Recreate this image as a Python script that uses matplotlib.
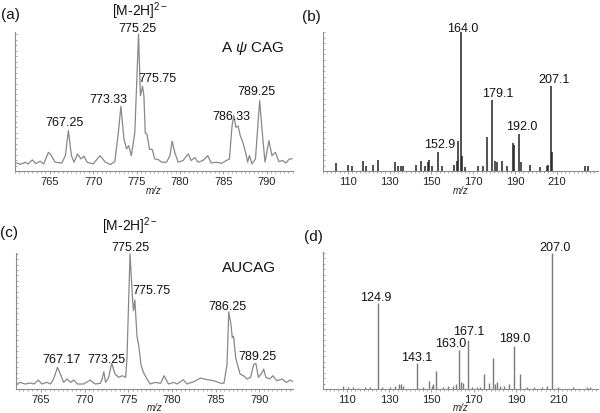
import numpy as np
import matplotlib
matplotlib.use("Agg")
import matplotlib.pyplot as plt
from matplotlib.ticker import MultipleLocator

plt.rcParams["font.family"] = ["Liberation Sans", "DejaVu Sans"]
plt.rcParams["mathtext.fontset"] = "custom"
plt.rcParams["mathtext.rm"] = "Liberation Sans"
plt.rcParams["mathtext.it"] = "Liberation Sans:italic"

# (a) A psi CAG, profile spectrum
mz_a = [761.2, 761.6, 762.2, 762.5, 763.0, 763.4, 763.9, 764.3, 764.85, 765.2,
        765.6, 766.4, 766.8, 767.15, 767.5, 767.8, 768.2, 768.6, 768.95, 769.3,
        770.0, 770.8, 771.4, 772.0, 772.5, 772.9, 773.2, 773.55, 773.85, 774.1,
        774.4, 774.8, 775.23, 775.45, 775.69, 775.85, 776.0, 776.2, 776.5, 776.8,
        777.1, 777.5, 777.9, 778.45, 778.85, 779.1, 779.4, 779.8, 780.35, 780.95,
        781.3, 781.7, 782.1, 782.65, 783.2, 783.6, 784.2, 784.8, 785.35, 785.7,
        786.0, 786.2, 786.45, 786.7, 786.95, 787.25, 787.6, 787.8, 788.0, 788.3,
        788.7, 789.18, 789.55, 789.8, 790.25, 790.6, 791.0, 791.4, 791.85, 792.2,
        792.6, 792.9]
int_a = [6, 5, 6.5, 5.3, 8.3, 5.6, 7.3, 5.3, 13.8, 11.4,
         6.6, 6, 11.4, 29.6, 11.4, 6.6, 12.6, 9, 11, 6.6,
         5.3, 11.4, 6.6, 4.9, 7, 28, 47.3, 23.5, 16.3, 18.7,
         11.4, 28, 100, 55, 62, 55, 28, 27, 16, 16,
         9, 8.5, 6.6, 6.6, 11.4, 22, 13.8, 6.6, 7.8, 12.6,
         7.8, 10, 6.6, 7.8, 11.4, 6, 6.6, 5.8, 7.8, 9,
         33, 40.5, 32, 33, 26, 21, 12.6, 6.6, 11.4, 5.3,
         9, 51.5, 23.5, 6.6, 22.3, 11.4, 13.8, 7, 7.8, 6,
         9, 9]
labels_a = ["775.25", "775.75", "773.33", "767.25", "786.33", "789.25"]
lab_x_a = [775.09, 777.45, 771.78, 766.7, 785.92, 788.83]
lab_y_a = [102.2, 65.8, 50.5, 33.7, 38.1, 56.3]

# (b) MS/MS of A psi CAG, stick spectrum
mz_b = [104.35, 110.25, 111.8, 117.1, 118.7, 122.2, 124.6, 132.6, 134.2, 135.5,
        136.6, 142.6, 144.9, 146.9, 148.2, 149.0, 150.1, 152.9, 154.9, 160.8,
        162.1, 162.7, 164.0, 164.8, 166.1, 172.5, 174.5, 176.8, 179.1, 180.4,
        181.5, 183.6, 186.3, 188.9, 189.5, 192.0, 192.7, 197.2, 201.9, 205.1,
        205.9, 207.1, 207.9, 223.5, 225.1]
int_b = [6, 4.8, 3.4, 7, 4, 4.8, 8, 6.5, 3.4, 4,
         4, 4.8, 7.4, 4, 6.5, 8, 4, 14, 4, 4.8,
         7.7, 22, 100, 11, 3, 4, 4, 24.5, 51, 7.7,
         6.5, 7.7, 4, 20, 18.5, 27, 6.5, 4.8, 3, 4,
         4.8, 61, 13.7, 3.4, 3.4]
labels_b = ["164.0", "207.1", "179.1", "192.0", "152.9"]
lab_x_b = [164.86, 208.64, 181.85, 193.3, 153.86]
lab_y_b = [100.9, 64.2, 54.2, 30.4, 17.5]

# (c) AUCAG, profile spectrum
mz_c = [762.25, 762.6, 763.2, 763.8, 764.2, 764.7, 765.1, 765.7, 766.1, 766.45,
        766.9, 767.3, 767.6, 768.0, 768.4, 768.75, 769.2, 769.9, 770.65, 771.2,
        771.8, 772.0, 772.2, 772.4, 772.75, 773.1, 773.5, 773.9, 774.3, 774.7,
        774.85, 775.2, 775.5, 775.6, 775.75, 776.0, 776.2, 776.45, 776.75, 777.15,
        777.5, 778.1, 778.7, 779.1, 779.6, 780.2, 780.6, 781.3, 781.7, 782.5,
        783.25, 784.0, 784.8, 785.5, 785.95, 786.3, 786.5, 786.75, 786.9, 787.05,
        787.3, 787.5, 787.8, 788.2, 788.6, 789.0, 789.35, 789.6, 789.9, 790.3,
        790.5, 790.75, 791.2, 791.55, 792.0, 792.6, 793.1, 793.55, 793.85]
int_c = [3.7, 4.9, 3.7, 4.4, 3.7, 6.6, 3.7, 4.9, 3.7, 7.4,
         16, 9.8, 4.9, 7.4, 4.9, 6.6, 3.7, 3.7, 6.6, 3.7,
         4.2, 7.4, 12.8, 4.9, 8.6, 19, 11, 8.6, 9.8, 8.6,
         23, 100, 65, 58, 66, 39, 32, 18, 12, 7.4,
         3.7, 4.9, 4.2, 9.8, 3.7, 4.9, 3.7, 6.9, 3.7, 5.4,
         8.1, 6.9, 6.1, 4.4, 4.2, 18, 57, 48, 38, 39,
         23, 18, 11, 9.8, 7.4, 8.6, 18, 19, 8.6, 12,
         14.7, 8.6, 7.4, 9.8, 6.1, 7.4, 4.9, 6.6, 5.4]
labels_c = ["775.25", "775.75", "767.17", "773.25", "786.25", "789.25"]
lab_x_c = [775.23, 777.63, 767.33, 772.48, 786.4, 789.74]
lab_y_c = [103.2, 70.7, 19.9, 19.9, 59, 22.1]

# (d) MS/MS of AUCAG, stick spectrum
mz_d = [108.0, 110.7, 113.1, 115.4, 118.6, 121.0, 124.9, 126.5, 130.4, 132.8,
        134.7, 135.6, 136.7, 143.1, 146.2, 149.05, 150.2, 150.9, 152.05, 155.7,
        158.0, 160.4, 161.7, 163.0, 164.2, 165.1, 167.1, 169.1, 171.5, 173.0,
        174.8, 177.0, 179.0, 180.1, 180.9, 182.5, 184.1, 186.9, 189.0, 192.0,
        195.1, 198.3, 202.2, 204.6, 207.0, 210.1, 217.2, 223.5, 224.8]
int_d = [2, 1.2, 1.2, 1, 1.2, 1.7, 63.4, 1.2, 1.2, 2.4,
         3.7, 3.7, 2.4, 18.8, 1.2, 6, 2.4, 3.7, 13, 1.2,
         2, 2.4, 3.7, 29, 4.9, 4.1, 35.9, 1.2, 1.7, 1.7,
         11, 4.1, 23, 3.7, 5.1, 2.4, 2.4, 3.7, 31.7, 11,
         1.2, 1.2, 1.7, 2.4, 100, 1.2, 1.2, 1.7, 1.2]
labels_d = ["207.0", "124.9", "143.1", "163.0", "167.1", "189.0"]
lab_x_d = [208.23, 123.81, 142.85, 159.3, 167.84, 189.48]
lab_y_d = [102.4, 65.8, 21.2, 31.7, 40.2, 35.3]

fig = plt.figure(figsize=(6, 4.14), dpi=100)
ax_a = fig.add_axes([0.025, 0.584, 0.463, 0.336])
ax_b = fig.add_axes([0.538, 0.584, 0.459, 0.336])
ax_c = fig.add_axes([0.027, 0.058, 0.462, 0.328])
ax_d = fig.add_axes([0.538, 0.058, 0.459, 0.330])

axis_col = "#8c8c8c"


def style(ax, xlim, ytop, major, minor):
    ax.set_xlim(*xlim)
    ax.set_ylim(0, ytop)
    for s in ["top", "right"]:
        ax.spines[s].set_visible(False)
    for s in ["left", "bottom"]:
        ax.spines[s].set_color(axis_col)
        ax.spines[s].set_linewidth(0.8)
    ax.xaxis.set_major_locator(MultipleLocator(major))
    ax.xaxis.set_minor_locator(MultipleLocator(minor))
    ax.yaxis.set_major_locator(MultipleLocator(20))
    ax.yaxis.set_minor_locator(MultipleLocator(4))
    ax.tick_params(axis="x", which="major", length=2, width=0.6,
                   color=axis_col, labelsize=8, pad=1.5, labelcolor="#222")
    ax.tick_params(axis="x", which="minor", length=1.5, width=0.5, color=axis_col)
    ax.tick_params(axis="y", which="both", direction="in", length=1.5,
                   width=0.5, color=axis_col, labelleft=False)
    ax.set_xlabel("m/z", fontsize=7, style="italic", labelpad=-1, color="#222")


def put_labels(ax, labels, xs, ys):
    for t, x, y in zip(labels, xs, ys):
        ax.text(x, y, t, ha="center", va="baseline", fontsize=9,
                color="#111", clip_on=False)


# (a)
ax_a.plot(mz_a, int_a, color="#888888", lw=0.9)
style(ax_a, (761.0, 793.0), 101.5, 5, 0.5)
put_labels(ax_a, labels_a, lab_x_a, lab_y_a)
ax_a.text(775.4, 114.2, "[M-2H]$^{2-}$", ha="center", va="baseline",
          fontsize=10, color="#111", clip_on=False)
ax_a.text(788.4, 90.5, "A $\\psi$ CAG", ha="center", va="center",
          fontsize=11, color="#111")

# (b)
ax_b.vlines(mz_b, 0, int_b, color="#222222", lw=1.1)
style(ax_b, (98.0, 229.8), 100, 20, 2)
ax_b.set_xticks([110, 130, 150, 170, 190, 210])
put_labels(ax_b, labels_b, lab_x_b, lab_y_b)

# (c)
ax_c.plot(mz_c, int_c, color="#888888", lw=0.9)
style(ax_c, (762.17, 793.9), 100.5, 5, 0.5)
put_labels(ax_c, labels_c, lab_x_c, lab_y_c)
ax_c.text(775.24, 117.9, "[M-2H]$^{2-}$", ha="center", va="baseline",
          fontsize=10, color="#111", clip_on=False)
ax_c.text(788.86, 90.6, "AUCAG", ha="center", va="center",
          fontsize=11, color="#111")

# (d)
ax_d.vlines(mz_d, 0, int_d, color="#7a7a7a", lw=1.0)
style(ax_d, (98.6, 228.9), 100.5, 20, 2)
ax_d.set_xticks([110, 130, 150, 170, 190, 210])
put_labels(ax_d, labels_d, lab_x_d, lab_y_d)

# panel letters
for t, x, y in [("(a)", 1, 15), ("(b)", 302, 17.5), ("(c)", 0, 232.5), ("(d)", 304, 237)]:
    fig.text(x / 600, 1 - y / 414, t, ha="left", va="center", fontsize=11, color="#111")

fig.savefig("out.png", dpi=100)
